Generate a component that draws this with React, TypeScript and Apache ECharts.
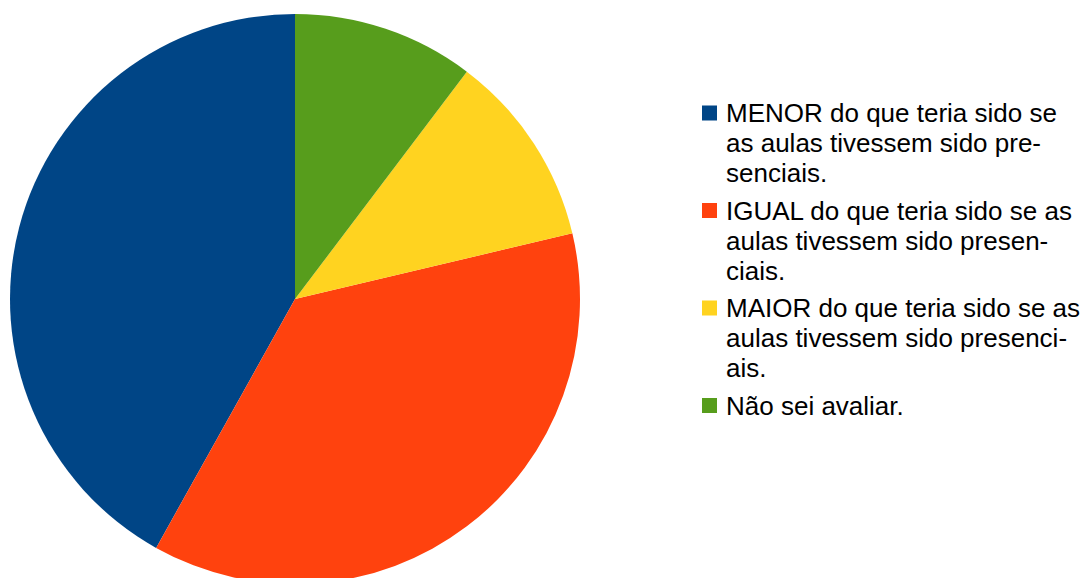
import React, { useEffect, useRef } from "react";
import * as echarts from "echarts";

const categories = [
  "MENOR do que teria sido se as aulas tivessem sido presenciais.",
  "IGUAL do que teria sido se as aulas tivessem sido presenciais.",
  "MAIOR do que teria sido se as aulas tivessem sido presenciais.",
  "Não sei avaliar.",
];
const legendLabels = [
  "MENOR do que teria sido se\nas aulas tivessem sido pre-\nsenciais.",
  "IGUAL do que teria sido se as\naulas tivessem sido presen-\nciais.",
  "MAIOR do que teria sido se as\naulas tivessem sido presenci-\nais.",
  "Não sei avaliar.",
];
const values = [41.9, 36.8, 11.0, 10.3];
const colors = ["#004586", "#ff420e", "#ffd320", "#579d1c"];

const LINE_H = 30;
// square icon aligned with the first text line of a block of `h` pixels
const iconFor = (h: number) => `path://M0,0M0,7.5L15,7.5L15,22.5L0,22.5ZM15,${h}`;

const textStyle = {
  fontFamily: "Liberation Sans",
  fontSize: 26,
  lineHeight: LINE_H,
  color: "#000000",
  padding: [0, 0, 0, 4],
};

export default function App() {
  const ref = useRef<HTMLDivElement>(null);
  useEffect(() => {
    document.body.style.margin = "0";
    const chart = echarts.init(ref.current!, undefined, { renderer: "svg" });
    const formatter = (name: string) => legendLabels[categories.indexOf(name)];
    chart.setOption({
      animation: false,
      backgroundColor: "#ffffff",
      color: colors,
      legend: [
        {
          orient: "vertical",
          left: 702,
          top: 98,
          padding: 0,
          itemWidth: 15,
          itemHeight: 3 * LINE_H,
          itemGap: 7.5,
          selectedMode: false,
          data: categories.slice(0, 3).map((name) => ({ name, icon: iconFor(3 * LINE_H) })),
          formatter,
          textStyle,
        },
        {
          orient: "vertical",
          left: 702,
          top: 390.5,
          padding: 0,
          itemWidth: 15,
          itemHeight: LINE_H,
          selectedMode: false,
          data: categories.slice(3).map((name) => ({ name, icon: iconFor(LINE_H) })),
          formatter,
          textStyle,
        },
      ],
      series: [
        {
          type: "pie",
          center: [295, 299],
          radius: 285,
          startAngle: 90,
          clockwise: false,
          label: { show: false },
          labelLine: { show: false },
          itemStyle: { borderWidth: 0 },
          emphasis: { disabled: true },
          data: categories.map((name, i) => ({
            name,
            value: values[i],
            itemStyle: { color: colors[i] },
          })),
        },
      ],
    });
    return () => chart.dispose();
  }, []);
  return (
    <div
      ref={ref}
      style={{ position: "fixed", left: 0, top: 0, width: 1086, height: 578 }}
    />
  );
}
